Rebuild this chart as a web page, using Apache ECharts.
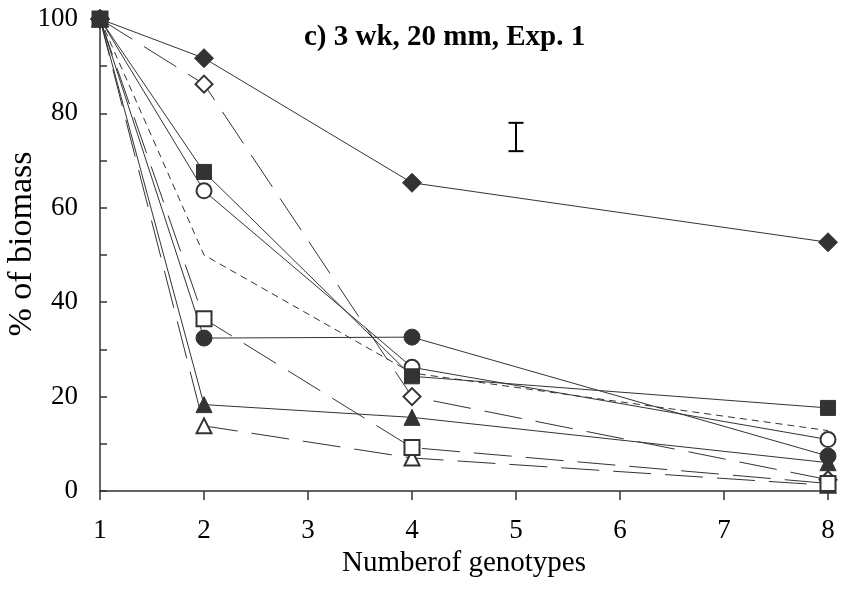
<!DOCTYPE html>
<html>
<head>
<meta charset="utf-8">
<script src="https://cdn.jsdelivr.net/npm/echarts@6/dist/echarts.min.js"></script>
<style>
  html, body { margin: 0; padding: 0; background: #fff; }
  #chart { width: 841px; height: 592px; }
</style>
</head>
<body>
<div id="chart"></div>
<script>
// number of genotypes
var genotypes = [1, 2, 4, 8];

// % of biomass per line
var filledDiamond = [100, 91.7, 65.3, 52.7];
var openDiamond = [100, 86.2, 20, 2.4];
var filledSquare = [100, 67.6, 24.3, 17.6];
var openCircle = [100, 63.6, 26.2, 10.9];
var shortDash = [100, 50, 25, 12.8];
var openSquare = [100, 36.5, 9.2, 1.6];
var filledCircle = [100, 32.4, 32.6, 7.4];
var filledTriangle = [100, 18.3, 15.6, 6];
var openTriangle = [100, 13.8, 7, 1.2];

// error bar: x, low, high
var errorBar = [[5, 72, 78]];

var yTicks = [0, 20, 40, 60, 80, 100];

var ink = '#333';
var serif = '"Liberation Serif", "Times New Roman", serif';
var longDash = [38, 14];
var smallDash = [7, 5];

function pairs(vals) {
    return genotypes.map(function (g, i) { return [g, vals[i]]; });
}

function line(name, vals, symbol, filled, dash, size, z) {
    return {
        name: name,
        type: 'line',
        data: pairs(vals),
        symbol: symbol,
        symbolSize: size,
        showSymbol: symbol !== 'none',
        lineStyle: { color: ink, width: 1, type: dash },
        itemStyle: filled
            ? { color: ink, borderColor: ink, borderWidth: 1 }
            : { color: '#fff', borderColor: ink, borderWidth: 2 },
        emphasis: { disabled: true },
        animation: false,
        z: z || 3
    };
}

var chart = echarts.init(document.getElementById('chart'));
chart.setOption({
    backgroundColor: '#fff',
    animation: false,
    title: {
        text: 'c) 3 wk, 20 mm, Exp. 1',
        left: 299,
        top: 18,
        textStyle: { fontFamily: serif, fontWeight: 'bold', fontSize: 29, color: '#000' }
    },
    graphic: [{
        type: 'text',
        x: 22,
        y: 244,
        rotation: Math.PI / 2,
        style: {
            text: '% of biomass',
            font: '34px "Liberation Serif", serif',
            fill: '#000',
            align: 'center',
            verticalAlign: 'middle'
        }
    }],
    grid: { left: 100, right: 13, top: 19, bottom: 101 },
    xAxis: {
        type: 'value',
        min: 1,
        max: 8,
        interval: 1,
        name: 'Numberof genotypes',
        nameLocation: 'middle',
        nameGap: 56,
        nameTextStyle: { fontFamily: serif, fontSize: 29, color: '#000' },
        axisLine: { lineStyle: { color: ink, width: 1.5 } },
        axisTick: { inside: false, length: 9, lineStyle: { color: ink, width: 1.5 } },
        axisLabel: { fontFamily: serif, fontSize: 27, color: '#000', margin: 26 },
        splitLine: { show: false }
    },
    yAxis: {
        type: 'value',
        min: 0,
        max: 100,
        interval: 10,
        axisLine: { show: true, lineStyle: { color: ink, width: 1.5 } },
        axisTick: { inside: true, length: 7, lineStyle: { color: ink, width: 1.5 } },
        axisLabel: {
            fontFamily: serif, fontSize: 27, color: '#000', margin: 22,
            formatter: function (v) { return yTicks.indexOf(v) >= 0 ? String(v) : ''; }
        },
        splitLine: { show: false }
    },
    series: [
        line('filled diamond', filledDiamond, 'diamond', true, 'solid', 19),
        line('open diamond', openDiamond, 'diamond', false, longDash, 17),
        line('open circle', openCircle, 'circle', false, 'solid', 15),
        line('dashed', shortDash, 'none', true, smallDash, 0),
        line('open triangle', openTriangle, 'triangle', false, longDash, 15),
        line('open square', openSquare, 'rect', false, longDash, 15),
        line('filled circle', filledCircle, 'circle', true, 'solid', 16),
        line('filled triangle', filledTriangle, 'triangle', true, 'solid', 16),
        line('filled square', filledSquare, 'rect', true, 'solid', 15, 4),
        {
            type: 'custom',
            data: errorBar,
            renderItem: function (params, api) {
                var lo = api.coord([api.value(0), api.value(1)]);
                var hi = api.coord([api.value(0), api.value(2)]);
                var w = 7.5;
                var st = { stroke: '#000', lineWidth: 2 };
                return {
                    type: 'group',
                    children: [
                        { type: 'line', shape: { x1: lo[0], y1: lo[1], x2: hi[0], y2: hi[1] }, style: st },
                        { type: 'line', shape: { x1: lo[0] - w, y1: lo[1], x2: lo[0] + w, y2: lo[1] }, style: st },
                        { type: 'line', shape: { x1: hi[0] - w, y1: hi[1], x2: hi[0] + w, y2: hi[1] }, style: st }
                    ]
                };
            },
            z: 5
        }
    ]
});
</script>
</body>
</html>
